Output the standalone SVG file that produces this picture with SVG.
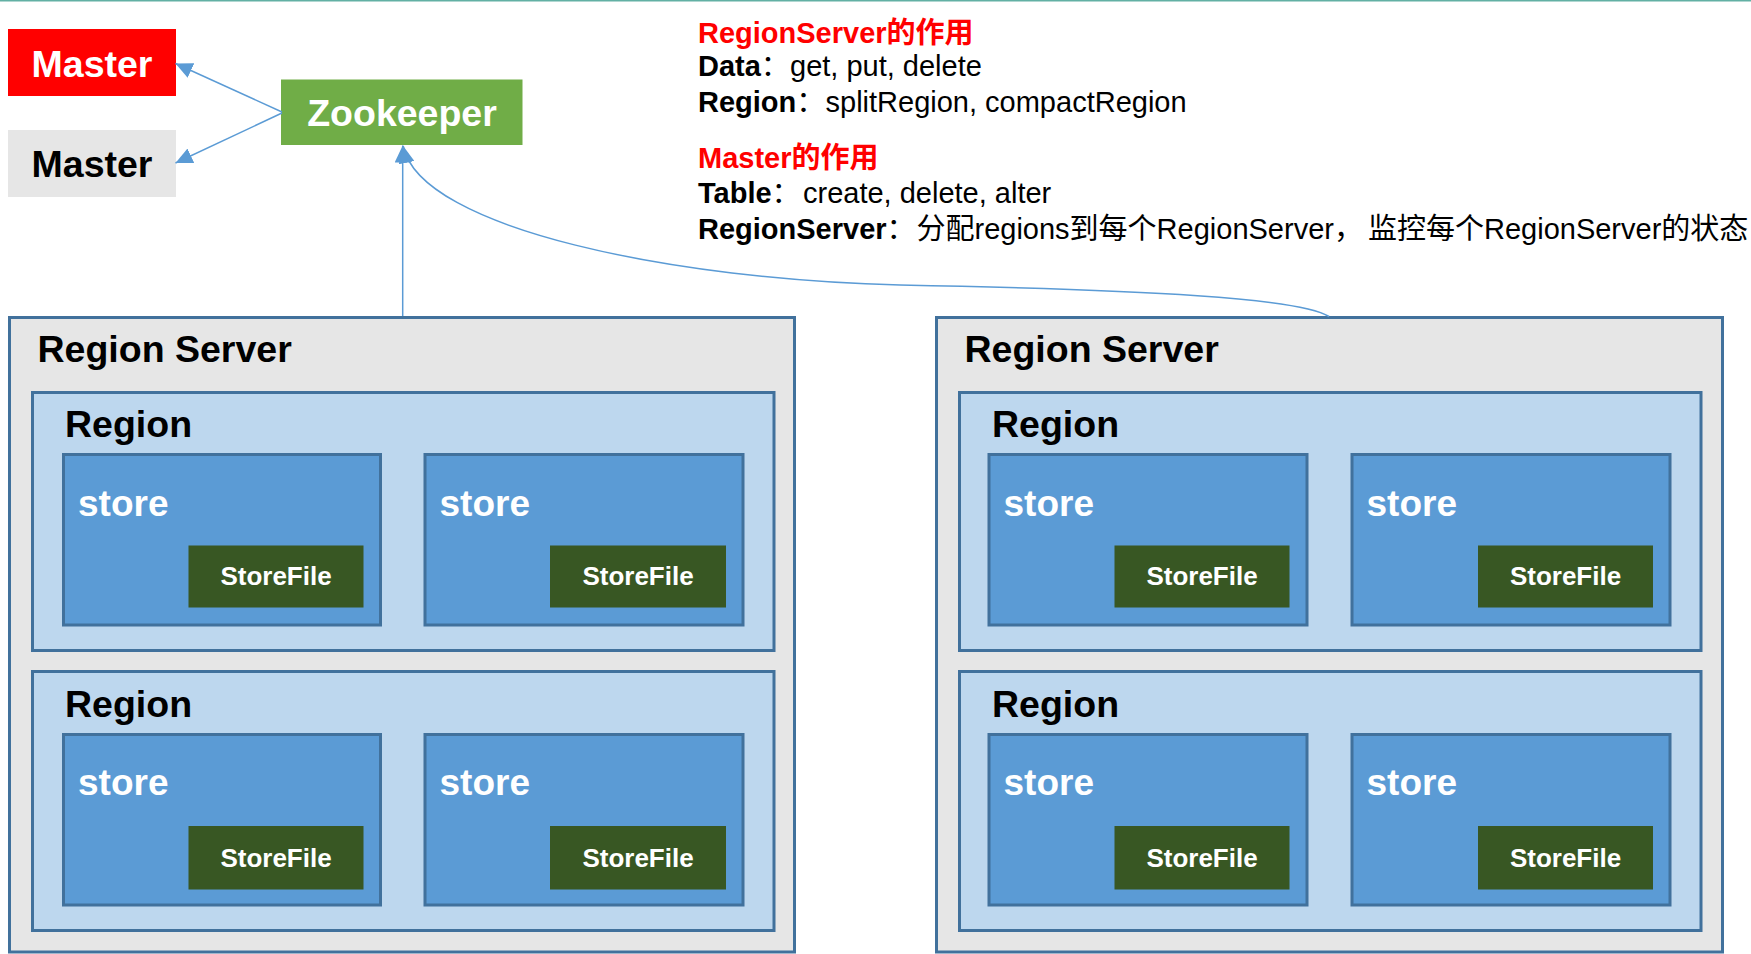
<svg xmlns="http://www.w3.org/2000/svg" width="1751" height="954" viewBox="0 0 1751 954">
<style>
text{font-family:"Liberation Sans","Noto Sans CJK SC",Arial,sans-serif;}
.b{font-weight:bold;}
.rs{fill:#e6e6e6;stroke:#41719c;stroke-width:3;}
.rg{fill:#bdd7ee;stroke:#41719c;stroke-width:3;}
.st{fill:#5b9bd5;stroke:#41719c;stroke-width:3;}
.sf{fill:#385723;}
.t36{font-size:37.5px;font-weight:bold;fill:#000;}
.t37{font-size:37.5px;font-weight:bold;fill:#000;}
.ts{font-size:37px;font-weight:bold;fill:#fff;}
.tf{font-size:26px;font-weight:bold;fill:#fff;text-anchor:middle;}
.info{font-size:29px;fill:#000;}
.red{fill:#ff0000;font-weight:bold;}
.conn{fill:none;stroke:#5b9bd5;stroke-width:1.5;}
</style>
<defs>
<marker id="ah" markerUnits="userSpaceOnUse" markerWidth="18" markerHeight="16" refX="17" refY="8" orient="auto">
<path d="M0,0 L17,8 L0,16 z" fill="#5b9bd5"/>
</marker>
</defs>
<rect x="0" y="0" width="1751" height="1.5" fill="#62b0a4"/>

<g id="master-active">
<rect x="8" y="29" width="168" height="67" fill="#ff0000"/>
<text x="92" y="76.5" font-size="37.5" font-weight="bold" fill="#fff" text-anchor="middle">Master</text>
</g>
<g id="master-backup">
<rect x="8" y="130" width="168" height="67" fill="#e6e6e6"/>
<text x="92" y="176.5" font-size="37.5" font-weight="bold" fill="#000" text-anchor="middle">Master</text>
</g>
<g id="zookeeper">
<rect x="281" y="79.5" width="241.5" height="65.5" fill="#70ad47"/>
<text x="402" y="125.5" font-size="37.5" font-weight="bold" fill="#fff" text-anchor="middle">Zookeeper</text>
</g>

<g id="info">
<text class="info red" x="698" y="43">RegionServer的作用</text>
<text class="info" x="698" y="76"><tspan class="b">Data</tspan>：<tspan x="790">get, put, delete</tspan></text>
<text class="info" x="698" y="112"><tspan class="b">Region</tspan>：<tspan x="825.5">splitRegion, compactRegion</tspan></text>
<text class="info red" x="698" y="168">Master的作用</text>
<text class="info" x="698" y="203"><tspan class="b">Table</tspan>：<tspan x="803">create, delete, alter</tspan></text>
<text class="info" x="698" y="239"><tspan class="b">RegionServer</tspan>：<tspan x="916.5">分配regions到每个RegionServer，</tspan><tspan x="1368">监控每个RegionServer的状态</tspan></text>
</g>

<g id="regionserver-1">
<rect class="rs" x="9.5" y="317.5" width="785" height="634.5"/>
<text class="t36" x="37.5" y="362">Region Server</text>
<g id="rs1-region-1">
<rect class="rg" x="32.5" y="392.5" width="741.5" height="258"/>
<text class="t37" x="65" y="437">Region</text>
<g transform="translate(63.5,454.5)">
<rect class="st" x="0" y="0" width="317" height="170.5"/>
<text class="ts" x="14.5" y="61.5">store</text>
<rect class="sf" x="125" y="91" width="175" height="62"/>
<text class="tf" x="212.5" y="130.5">StoreFile</text>
</g>
<g transform="translate(425,454.5)">
<rect class="st" x="0" y="0" width="318" height="170.5"/>
<text class="ts" x="14.5" y="61.5">store</text>
<rect class="sf" x="125" y="91" width="176" height="62"/>
<text class="tf" x="213" y="130.5">StoreFile</text>
</g>
</g>
<g id="rs1-region-2">
<rect class="rg" x="32.5" y="671.5" width="741.5" height="259"/>
<text class="t37" x="65" y="717">Region</text>
<g transform="translate(63.5,734.5)">
<rect class="st" x="0" y="0" width="317" height="170.5"/>
<text class="ts" x="14.5" y="60.5">store</text>
<rect class="sf" x="125" y="91.5" width="175" height="63.5"/>
<text class="tf" x="212.5" y="132">StoreFile</text>
</g>
<g transform="translate(425,734.5)">
<rect class="st" x="0" y="0" width="318" height="170.5"/>
<text class="ts" x="14.5" y="60.5">store</text>
<rect class="sf" x="125" y="91.5" width="176" height="63.5"/>
<text class="tf" x="213" y="132">StoreFile</text>
</g>
</g>
</g>

<g id="regionserver-2">
<rect class="rs" x="936.5" y="317.5" width="786" height="634.5"/>
<text class="t36" x="964.5" y="362">Region Server</text>
<g id="rs2-region-1">
<rect class="rg" x="959.5" y="392.5" width="741.5" height="258"/>
<text class="t37" x="992" y="437">Region</text>
<g transform="translate(989,454.5)">
<rect class="st" x="0" y="0" width="318" height="170.5"/>
<text class="ts" x="14.5" y="61.5">store</text>
<rect class="sf" x="125.5" y="91" width="175" height="62"/>
<text class="tf" x="213" y="130.5">StoreFile</text>
</g>
<g transform="translate(1352,454.5)">
<rect class="st" x="0" y="0" width="318" height="170.5"/>
<text class="ts" x="14.5" y="61.5">store</text>
<rect class="sf" x="126" y="91" width="175" height="62"/>
<text class="tf" x="213.5" y="130.5">StoreFile</text>
</g>
</g>
<g id="rs2-region-2">
<rect class="rg" x="959.5" y="671.5" width="741.5" height="259"/>
<text class="t37" x="992" y="717">Region</text>
<g transform="translate(989,734.5)">
<rect class="st" x="0" y="0" width="318" height="170.5"/>
<text class="ts" x="14.5" y="60.5">store</text>
<rect class="sf" x="125.5" y="91.5" width="175" height="63.5"/>
<text class="tf" x="213" y="132">StoreFile</text>
</g>
<g transform="translate(1352,734.5)">
<rect class="st" x="0" y="0" width="318" height="170.5"/>
<text class="ts" x="14.5" y="60.5">store</text>
<rect class="sf" x="126" y="91.5" width="175" height="63.5"/>
<text class="tf" x="213.5" y="132">StoreFile</text>
</g>
</g>
</g>

<g id="connectors">
<line class="conn" x1="282" y1="112" x2="175.5" y2="63.5" marker-end="url(#ah)"/>
<line class="conn" x1="282" y1="113" x2="175.5" y2="163" marker-end="url(#ah)"/>
<line class="conn" x1="402.7" y1="316" x2="402.7" y2="145.5" marker-end="url(#ah)"/>
<path class="conn" d="M1329,316.5 C1300,298 1150,290 900,285 C680,280 420,230 403.2,146" marker-end="url(#ah)"/>
</g>
</svg>
